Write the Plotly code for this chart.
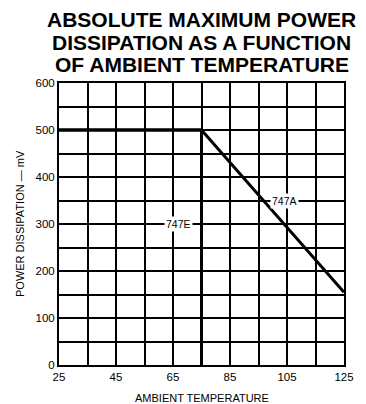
import plotly.graph_objects as go

# Data
temp_747A = [25, 75, 125]
power_747A = [500, 500, 155]
temp_747E = [25, 75, 75]
power_747E = [500, 500, 0]

x_grid = [25, 35, 45, 55, 65, 75, 85, 95, 105, 115, 125]
x_labels = ["25", "", "45", "", "65", "", "85", "", "105", "", "125"]
y_grid = [0, 50, 100, 150, 200, 250, 300, 350, 400, 450, 500, 550, 600]
y_labels = ["0", "", "100", "", "200", "", "300", "", "400", "", "500", "", "600"]

title_lines = ["ABSOLUTE MAXIMUM POWER", "DISSIPATION AS A FUNCTION", "OF AMBIENT TEMPERATURE"]
x_title = "AMBIENT TEMPERATURE"
y_title = "POWER DISSIPATION — mV"

FONT = "Liberation Sans, Arial, Helvetica"

fig = go.Figure()
fig.add_trace(go.Scatter(x=temp_747E, y=power_747E, mode="lines",
                         line=dict(color="black", width=3), hoverinfo="skip"))
fig.add_trace(go.Scatter(x=temp_747A, y=power_747A, mode="lines",
                         line=dict(color="black", width=3), hoverinfo="skip"))

fig.add_annotation(x=67, y=300, text="747E", showarrow=False, bgcolor="white",
                   font=dict(size=10.5, color="black", family=FONT), borderpad=1)
fig.add_annotation(x=104, y=350, text="747A", showarrow=False, bgcolor="white",
                   font=dict(size=10.5, color="black", family=FONT), borderpad=1)

for line, shift in zip(title_lines, [64, 41, 19]):
    fig.add_annotation(xref="paper", yref="paper", x=0.5, y=1, yshift=shift,
                       text="<b>" + line + "</b>", showarrow=False,
                       xanchor="center", yanchor="middle",
                       font=dict(size=21, color="black", family=FONT))

fig.add_annotation(xref="paper", yref="paper", x=0.5, y=0, yshift=-33,
                   text=x_title, showarrow=False, xanchor="center", yanchor="middle",
                   font=dict(size=11, color="black", family=FONT))
fig.add_annotation(xref="paper", yref="paper", x=0, y=0.5, xshift=-39,
                   text=y_title, showarrow=False, xanchor="center", yanchor="middle",
                   textangle=-90,
                   font=dict(size=11, color="black", family=FONT))

fig.update_layout(
    width=358, height=396,
    margin=dict(l=51, r=19, t=75, b=39),
    paper_bgcolor="white", plot_bgcolor="white",
    showlegend=False,
    font=dict(family=FONT, color="black", size=11),
    xaxis=dict(range=[25, 125], tickvals=x_grid, ticktext=x_labels,
               showgrid=True, gridcolor="black", gridwidth=1.5,
               showline=True, linecolor="black", linewidth=2, mirror=True,
               zeroline=False, ticks="", ticklen=0,
               tickfont=dict(size=11.5, color="black", family=FONT)),
    yaxis=dict(range=[0, 600], tickvals=y_grid, ticktext=y_labels,
               showgrid=True, gridcolor="black", gridwidth=1.5,
               showline=True, linecolor="black", linewidth=2, mirror=True,
               zeroline=False, ticks="", ticklen=0,
               tickfont=dict(size=11.5, color="black", family=FONT)),
)

fig.write_html("out.html")
